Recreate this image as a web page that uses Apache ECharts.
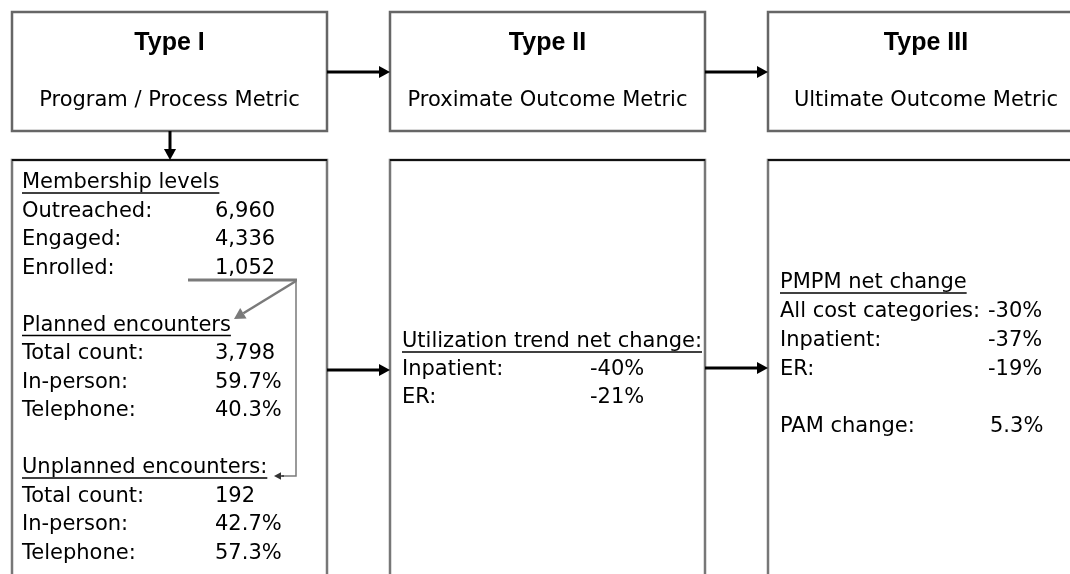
<!DOCTYPE html>
<html>
<head>
<meta charset="utf-8">
<script src="https://cdn.jsdelivr.net/npm/echarts@6/dist/echarts.min.js"></script>
<style>
  html, body { margin: 0; padding: 0; background: #fff; }
  #main { width: 1070px; height: 574px; }
</style>
</head>
<body>
<div id="main"></div>
<script>
// header boxes
const typeTitles = ['Type I', 'Type II', 'Type III'];
const typeSubtitles = ['Program / Process Metric', 'Proximate Outcome Metric', 'Ultimate Outcome Metric'];

// Type I detail
const membershipTitle = 'Membership levels';
const membershipLabels = ['Outreached:', 'Engaged:', 'Enrolled:'];
const membershipValues = ['6,960', '4,336', '1,052'];
const plannedTitle = 'Planned encounters';
const plannedLabels = ['Total count:', 'In-person:', 'Telephone:'];
const plannedValues = ['3,798', '59.7%', '40.3%'];
const unplannedTitle = 'Unplanned encounters:';
const unplannedLabels = ['Total count:', 'In-person:', 'Telephone:'];
const unplannedValues = ['192', '42.7%', '57.3%'];

// Type II detail
const utilizationTitle = 'Utilization trend net change:';
const utilizationLabels = ['Inpatient:', 'ER:'];
const utilizationValues = ['-40%', '-21%'];

// Type III detail
const pmpmTitle = 'PMPM net change';
const pmpmLabels = ['All cost categories:', 'Inpatient:', 'ER:'];
const pmpmValues = ['-30%', '-37%', '-19%'];
const pamLabel = 'PAM change:';
const pamValue = '5.3%';

const BODY_FONT = '21px "DejaVu Sans"';
const TITLE_FONT = 'bold 25px "Liberation Sans"';
const boxX = [12, 390, 768];
const boxW = [315, 315, 316];

const measure = document.createElement('canvas').getContext('2d');
function textWidth(str, font) {
  measure.font = font;
  return measure.measureText(str).width;
}

const elements = [];

function txt(str, x, y, opts) {
  elements.push({
    type: 'text',
    silent: true,
    style: Object.assign({
      text: str, x: x, y: y,
      font: BODY_FONT, fill: '#000',
      align: 'left', verticalAlign: 'middle'
    }, opts || {})
  });
}

function header(str, x, y) {
  txt(str, x, y);
  const w = textWidth(str, BODY_FONT);
  elements.push({
    type: 'line', silent: true,
    shape: { x1: x, y1: y + 10, x2: x + w, y2: y + 10 },
    style: { stroke: '#000', lineWidth: 1.5 }
  });
}

function arrow(x1, y1, x2, y2, color, width, head) {
  const ang = Math.atan2(y2 - y1, x2 - x1);
  const hl = head, hw = head * 0.55;
  const bx = x2 - hl * Math.cos(ang), by = y2 - hl * Math.sin(ang);
  elements.push({
    type: 'line', silent: true,
    shape: { x1: x1, y1: y1, x2: bx, y2: by },
    style: { stroke: color, lineWidth: width }
  });
  elements.push({
    type: 'polygon', silent: true,
    shape: {
      points: [
        [x2, y2],
        [bx + hw * Math.sin(ang), by - hw * Math.cos(ang)],
        [bx - hw * Math.sin(ang), by + hw * Math.cos(ang)]
      ]
    },
    style: { fill: color }
  });
}

// top boxes
typeTitles.forEach((t, i) => {
  elements.push({
    type: 'rect', silent: true,
    shape: { x: boxX[i], y: 12, width: boxW[i], height: 119 },
    style: { fill: '#fff', stroke: '#666', lineWidth: 2.5 }
  });
  const cx = boxX[i] + boxW[i] / 2;
  txt(t, cx, 43, { font: TITLE_FONT, align: 'center' });
  txt(typeSubtitles[i], cx, 101, { align: 'center' });
});

// bottom boxes (run off the bottom of the page)
boxX.forEach((x, i) => {
  elements.push({
    type: 'rect', silent: true,
    shape: { x: x, y: 160, width: boxW[i], height: 440 },
    style: { fill: '#fff', stroke: '#777', lineWidth: 2.5 }
  });
  elements.push({
    type: 'line', silent: true,
    shape: { x1: x, y1: 160, x2: x + boxW[i], y2: 160 },
    style: { stroke: '#111', lineWidth: 2 }
  });
});

// flow arrows
arrow(327, 72, 390, 72, '#000', 3, 11);
arrow(705, 72, 768, 72, '#000', 3, 11);
arrow(170, 131, 170, 160, '#000', 3, 11);
arrow(327, 370, 390, 370, '#000', 3, 11);
arrow(705, 368, 768, 368, '#000', 3, 11);

// Type I body
const LH = 28.5;
const col1 = 22, val1 = 215;
let y = 183;
header(membershipTitle, col1, y);
membershipLabels.forEach((l, i) => {
  y += LH;
  txt(l, col1, y);
  txt(membershipValues[i], val1, y);
});
y += LH * 2;
header(plannedTitle, col1, y);
plannedLabels.forEach((l, i) => {
  y += LH;
  txt(l, col1, y);
  txt(plannedValues[i], val1, y);
});
y += LH * 2;
header(unplannedTitle, col1, y);
unplannedLabels.forEach((l, i) => {
  y += LH;
  txt(l, col1, y);
  txt(unplannedValues[i], val1, y);
});

// gray connectors inside Type I
elements.push({
  type: 'line', silent: true,
  shape: { x1: 188, y1: 280, x2: 297, y2: 280 },
  style: { stroke: '#7a7a7a', lineWidth: 3 }
});
arrow(296, 281, 234, 319, '#7a7a7a', 2.5, 11);
elements.push({
  type: 'polyline', silent: true,
  shape: { points: [[296, 280], [296, 476], [282, 476]] },
  style: { stroke: '#7a7a7a', lineWidth: 1.5, fill: null }
});
arrow(284, 476, 274, 476, '#333', 1.5, 7);

// Type II body
const col2 = 402, val2 = 590;
header(utilizationTitle, col2, 342);
utilizationLabels.forEach((l, i) => {
  txt(l, col2, 370 + i * 28);
  txt(utilizationValues[i], val2, 370 + i * 28);
});

// Type III body
const col3 = 780, val3 = 988;
const LH3 = 28.7;
header(pmpmTitle, col3, 283);
pmpmLabels.forEach((l, i) => {
  txt(l, col3, 283 + (i + 1) * LH3);
  txt(pmpmValues[i], val3, 283 + (i + 1) * LH3);
});
txt(pamLabel, col3, 283 + 5 * LH3);
txt(pamValue, val3 + 2, 283 + 5 * LH3);

const chart = echarts.init(document.getElementById('main'));
chart.setOption({
  backgroundColor: '#fff',
  animation: false,
  graphic: { elements: elements }
});
</script>
</body>
</html>
